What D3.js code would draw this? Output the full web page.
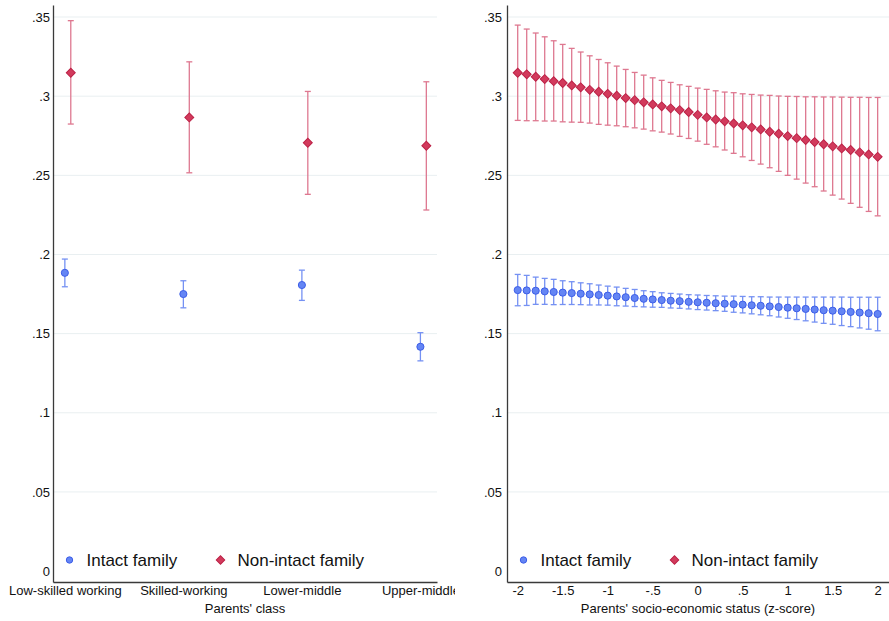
<!DOCTYPE html>
<html>
<head>
<meta charset="utf-8">
<script src="https://cdn.jsdelivr.net/npm/d3@7"></script>
<style>
  body { margin: 0; background: #fff; }
  text { font-family: "Liberation Sans", Arial, Helvetica, sans-serif; }
</style>
</head>
<body>
<svg id="chart" width="889" height="621"></svg>
<script>
// ---- data ----
const yTicks = [0, 0.05, 0.1, 0.15, 0.2, 0.25, 0.3, 0.35];
const yTickLabels = ["0", ".05", ".1", ".15", ".2", ".25", ".3", ".35"];

// left panel: parents' class
const classCats = ["Low-skilled working", "Skilled-working", "Lower-middle", "Upper-middle"];
const classPos = [1, 2, 3, 4];
const classIntact = [0.1884, 0.1750, 0.1807, 0.1417];
const classIntactLo = [0.1796, 0.1663, 0.1710, 0.1328];
const classIntactHi = [0.1971, 0.1834, 0.1901, 0.1506];
const classNonIntact = [0.3148, 0.2866, 0.2706, 0.2687];
const classNonIntactLo = [0.2824, 0.2516, 0.2380, 0.2281];
const classNonIntactHi = [0.3477, 0.3217, 0.3030, 0.3091];

// right panel: parents' SES (z-score)
const sesX = [-2, -1.9, -1.8, -1.7, -1.6, -1.5, -1.4, -1.3, -1.2, -1.1, -1, -0.9, -0.8, -0.7, -0.6, -0.5, -0.4, -0.3, -0.2, -0.1,
  0, 0.1, 0.2, 0.3, 0.4, 0.5, 0.6, 0.7, 0.8, 0.9, 1, 1.1, 1.2, 1.3, 1.4, 1.5, 1.6, 1.7, 1.8, 1.9, 2];
const sesTicks = [-2, -1.5, -1, -0.5, 0, 0.5, 1, 1.5, 2];
const sesTickLabels = ["-2", "-1.5", "-1", "-.5", "0", ".5", "1", "1.5", "2"];

const sesIntact = [0.1775, 0.1773, 0.1771, 0.1767, 0.1763, 0.1759, 0.1756, 0.1752, 0.1748, 0.1744, 0.1740,
  0.1735, 0.1730, 0.1725, 0.1720, 0.1716, 0.1712, 0.1708, 0.1705, 0.1701, 0.1698, 0.1695, 0.1692, 0.1689,
  0.1686, 0.1683, 0.1679, 0.1676, 0.1672, 0.1668, 0.1664, 0.1660, 0.1656, 0.1652, 0.1648, 0.1645, 0.1641,
  0.1637, 0.1633, 0.1629, 0.1624];
const sesIntactHi = [0.1874, 0.1868, 0.1857, 0.1849, 0.1843, 0.1834, 0.1828, 0.1821, 0.1815, 0.1807, 0.1800,
  0.1794, 0.1786, 0.1779, 0.1771, 0.1765, 0.1758, 0.1754, 0.1750, 0.1746, 0.1744, 0.1741, 0.1739, 0.1737,
  0.1737, 0.1735, 0.1733, 0.1733, 0.1731, 0.1731, 0.1731, 0.1731, 0.1731, 0.1731, 0.1731, 0.1731, 0.1731,
  0.1730, 0.1730, 0.1730, 0.1730];
const sesIntactLo = [0.1676, 0.1678, 0.1685, 0.1685, 0.1683, 0.1684, 0.1684, 0.1683, 0.1681, 0.1681, 0.1680,
  0.1676, 0.1674, 0.1671, 0.1669, 0.1667, 0.1666, 0.1662, 0.1660, 0.1656, 0.1652, 0.1649, 0.1645, 0.1641,
  0.1635, 0.1631, 0.1625, 0.1619, 0.1613, 0.1605, 0.1597, 0.1589, 0.1581, 0.1573, 0.1565, 0.1559, 0.1551,
  0.1544, 0.1536, 0.1528, 0.1518];

const sesNonIntact = [0.3148, 0.3138, 0.3123, 0.3108, 0.3095, 0.3083, 0.3068, 0.3056, 0.3040, 0.3028, 0.3015,
  0.3003, 0.2988, 0.2975, 0.2961, 0.2948, 0.2936, 0.2923, 0.2912, 0.2900, 0.2882, 0.2866, 0.2853, 0.2841,
  0.2828, 0.2816, 0.2803, 0.2790, 0.2775, 0.2763, 0.2748, 0.2735, 0.2723, 0.2710, 0.2696, 0.2683, 0.2670,
  0.2660, 0.2645, 0.2632, 0.2617];
const sesNonIntactHi = [0.3449, 0.3424, 0.3399, 0.3375, 0.3350, 0.3327, 0.3302, 0.3279, 0.3255, 0.3232, 0.3211,
  0.3190, 0.3169, 0.3150, 0.3133, 0.3116, 0.3100, 0.3087, 0.3072, 0.3062, 0.3051, 0.3043, 0.3034, 0.3026,
  0.3022, 0.3015, 0.3011, 0.3007, 0.3005, 0.3001, 0.2999, 0.2998, 0.2996, 0.2996, 0.2995, 0.2995, 0.2994,
  0.2993, 0.2993, 0.2992, 0.2992];
const sesNonIntactLo = [0.2847, 0.2845, 0.2845, 0.2843, 0.2843, 0.2838, 0.2836, 0.2835, 0.2830, 0.2822, 0.2817,
  0.2813, 0.2807, 0.2800, 0.2792, 0.2781, 0.2773, 0.2761, 0.2746, 0.2733, 0.2716, 0.2696, 0.2680, 0.2660,
  0.2639, 0.2617, 0.2594, 0.2571, 0.2548, 0.2525, 0.2500, 0.2476, 0.2451, 0.2428, 0.2401, 0.2375, 0.2350,
  0.2323, 0.2298, 0.2272, 0.2244];

const legendLabels = ["Intact family", "Non-intact family"];

// ---- styles ----
const blue = { fill: "#6485f4", stroke: "#3d5ee8", bar: "#7591f3" };
const red = { fill: "#d23a5c", stroke: "#bc2146", bar: "#de7890" };
const gridColor = "#e9eff1";
const axisColor = "#3a3a3a";

const svg = d3.select("#chart");
const yDomain = [-0.0069, 0.3576];
const yRange = [582, 5];

const circle = d3.symbol().type(d3.symbolCircle).size(40);
const diamond = d3.symbol().type(d3.symbolSquare).size(40);

function drawSeries(g, x, y, s) {
  const pts = s.xs.map((v, i) => ({ x: v + s.dx, m: s.mean[i], lo: s.lo[i], hi: s.hi[i] }));
  const bars = g.append("g")
    .attr("stroke", s.col.bar)
    .attr("stroke-width", 1.3)
    .attr("fill", "none");
  bars.selectAll(".ci").data(pts).join("line")
    .attr("x1", d => x(d.x)).attr("x2", d => x(d.x))
    .attr("y1", d => y(d.lo)).attr("y2", d => y(d.hi));
  bars.selectAll(".capHi").data(pts).join("line")
    .attr("x1", d => x(d.x) - 3).attr("x2", d => x(d.x) + 3)
    .attr("y1", d => y(d.hi)).attr("y2", d => y(d.hi));
  bars.selectAll(".capLo").data(pts).join("line")
    .attr("x1", d => x(d.x) - 3).attr("x2", d => x(d.x) + 3)
    .attr("y1", d => y(d.lo)).attr("y2", d => y(d.lo));

  g.append("g").selectAll("path").data(pts).join("path")
    .attr("d", s.shape === "circle" ? circle() : diamond())
    .attr("transform", d => "translate(" + x(d.x) + "," + y(d.m) + ")" + (s.shape === "circle" ? "" : " rotate(45)"))
    .attr("fill", s.col.fill)
    .attr("stroke", s.col.stroke)
    .attr("stroke-width", 1);
}

function panel(opt) {
  const g = svg.append("g");
  if (opt.clip) {
    svg.append("clipPath").attr("id", opt.clip.id)
      .append("rect").attr("x", opt.clip.x).attr("y", 0).attr("width", opt.clip.w).attr("height", 621);
    g.attr("clip-path", "url(#" + opt.clip.id + ")");
  }
  const x = d3.scaleLinear().domain(opt.xDomain).range(opt.xRange);
  const y = d3.scaleLinear().domain(yDomain).range(yRange);

  // gridlines
  g.append("g").selectAll("line").data(yTicks.filter(d => d > 0)).join("line")
    .attr("x1", opt.xRange[0]).attr("x2", opt.xRange[1])
    .attr("y1", d => y(d)).attr("y2", d => y(d))
    .attr("stroke", gridColor).attr("stroke-width", 1);

  opt.series.forEach(s => drawSeries(g, x, y, s));

  // y axis
  const ya = g.append("g")
    .attr("transform", "translate(" + opt.xRange[0] + ",0)")
    .call(d3.axisLeft(y).tickValues(yTicks).tickSize(0).tickPadding(opt.yPad)
      .tickFormat((d, i) => yTickLabels[i]));
  // x axis
  const xa = g.append("g")
    .attr("transform", "translate(0," + yRange[0] + ")")
    .call(d3.axisBottom(x).tickValues(opt.xTicks).tickSize(0).tickPadding(4)
      .tickFormat((d, i) => opt.xTickLabels[i]));
  [ya, xa].forEach(a => {
    a.attr("font-family", null).attr("font-size", 13);
    a.select(".domain").attr("stroke", axisColor).attr("stroke-width", 1.3);
    a.selectAll("text").attr("fill", "#111");
  });

  g.append("text")
    .attr("x", (opt.xRange[0] + opt.xRange[1]) / 2)
    .attr("y", 613)
    .attr("text-anchor", "middle")
    .attr("font-size", 13)
    .attr("fill", "#111")
    .text(opt.title);

  // legend
  const lx = opt.xRange[0];
  const ly = 560;
  const leg = g.append("g");
  leg.append("path").attr("d", d3.symbol().type(d3.symbolCircle).size(32)())
    .attr("transform", "translate(" + (lx + 16.5) + "," + ly + ")")
    .attr("fill", blue.fill).attr("stroke", blue.stroke);
  leg.append("text").attr("x", lx + 33.5).attr("y", ly + 6).attr("font-size", 17).attr("fill", "#111")
    .text(legendLabels[0]);
  leg.append("path").attr("d", d3.symbol().type(d3.symbolSquare).size(36)())
    .attr("transform", "translate(" + (lx + 167.5) + "," + ly + ") rotate(45)")
    .attr("fill", red.fill).attr("stroke", red.stroke);
  leg.append("text").attr("x", lx + 184.5).attr("y", ly + 6).attr("font-size", 17).attr("fill", "#111")
    .text(legendLabels[1]);
}

panel({
  xDomain: [0.9, 4.14], xRange: [53, 437], yPad: 3,
  xTicks: classPos, xTickLabels: classCats,
  title: "Parents' class",
  clip: { id: "clipLeft", x: 0, w: 455 },
  series: [
    { xs: classPos, dx: 0, mean: classIntact, lo: classIntactLo, hi: classIntactHi, shape: "circle", col: blue },
    { xs: classPos, dx: 0.05, mean: classNonIntact, lo: classNonIntactLo, hi: classNonIntactHi, shape: "diamond", col: red }
  ]
});

panel({
  xDomain: [-2.119, 2.126], xRange: [507, 889], yPad: 5,
  xTicks: sesTicks, xTickLabels: sesTickLabels,
  title: "Parents' socio-economic status (z-score)",
  series: [
    { xs: sesX, dx: 0, mean: sesIntact, lo: sesIntactLo, hi: sesIntactHi, shape: "circle", col: blue },
    { xs: sesX, dx: 0, mean: sesNonIntact, lo: sesNonIntactLo, hi: sesNonIntactHi, shape: "diamond", col: red }
  ]
});
</script>
</body>
</html>
